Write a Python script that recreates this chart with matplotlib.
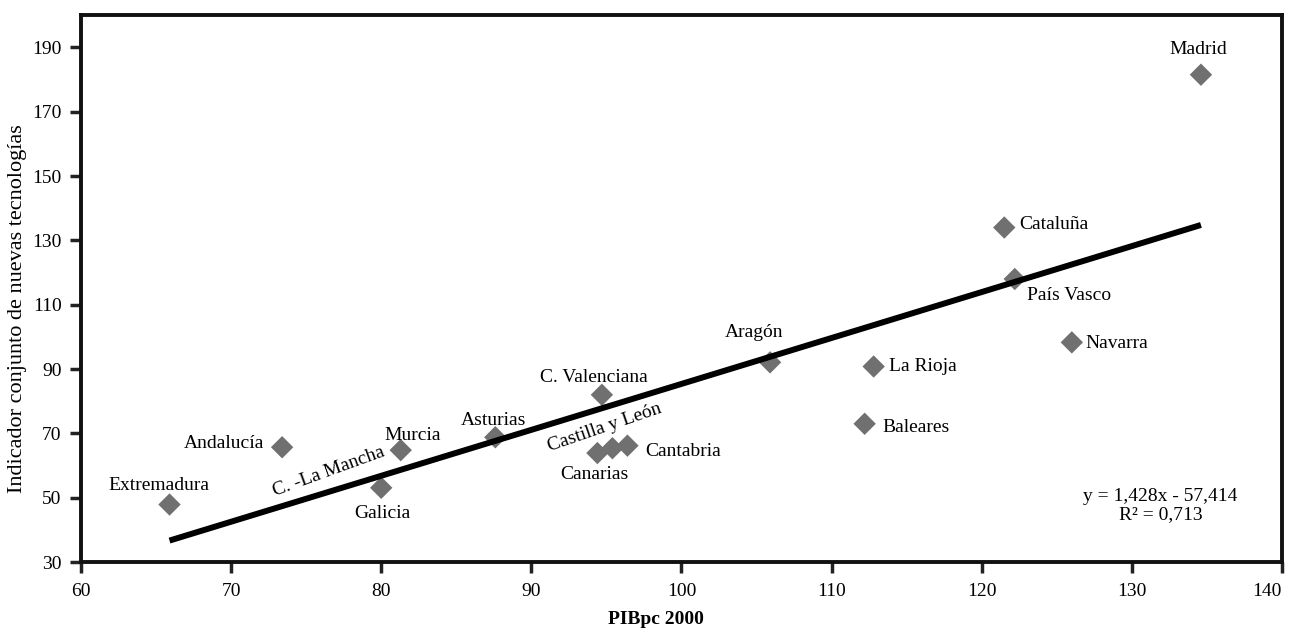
import matplotlib
matplotlib.use("Agg")
import matplotlib.pyplot as plt
import numpy as np

# regions (PIBpc 2000 vs. joint new-technologies indicator)
regions = ["Extremadura", "Andalucía", "Galicia", "Murcia", "Asturias",
           "C. Valenciana", "Canarias", "Castilla y León", "Cantabria",
           "Aragón", "Baleares", "La Rioja", "Cataluña", "País Vasco",
           "Navarra", "Madrid"]
pib = [65.9, 73.4, 80.0, 81.3, 87.6, 94.7, 94.4, 95.4, 96.4,
       105.9, 112.2, 112.8, 121.5, 122.2, 126.0, 134.6]
indicador = [47.9, 65.7, 53.1, 64.8, 68.8, 82.0, 63.9, 65.4, 66.2,
             92.1, 73.0, 90.8, 134.0, 118.0, 98.3, 181.5]

# trend line coefficients as printed on the chart
slope = 1.428
intercept = -57.414
r2 = 0.713

xticks = list(range(60, 141, 10))
yticks = list(range(30, 191, 20))

# label placement: offset in pixels from the point, horizontal alignment
label_pos = {
    "Extremadura": (-11, 19, "center"),
    "Andalucía": (-18, 4, "right"),
    "Galicia": (1, -26, "center"),
    "Murcia": (12, 15, "center"),
    "Asturias": (-2, 17, "center"),
    "C. Valenciana": (-8, 17, "center"),
    "Canarias": (-3, -21, "center"),
    "Cantabria": (18, -6, "left"),
    "Aragón": (-16, 30, "center"),
    "Baleares": (18, -4, "left"),
    "La Rioja": (15, 0, "left"),
    "Cataluña": (15, 3, "left"),
    "País Vasco": (12, -17, "left"),
    "Navarra": (14, -1, "left"),
    "Madrid": (-3, 25, "center"),
}

plt.rcParams["font.family"] = ["Liberation Serif", "DejaVu Serif"]

fig = plt.figure(figsize=(12.93, 6.33), dpi=100)
ax = fig.add_axes([0.0626, 0.112, 0.9289, 0.864])

# trend line over the data range
xl = np.array([min(pib), max(pib)])
ax.plot(xl, slope * xl + intercept, color="black", lw=4.3,
        solid_capstyle="butt", zorder=3)

ax.scatter(pib, indicador, marker="D", s=130, color="#707070",
           edgecolors="none", zorder=2)

for name, x, y in zip(regions, pib, indicador):
    if name in label_pos:
        dx, dy, ha = label_pos[name]
        ax.annotate(name, (x, y), xytext=(dx, dy), textcoords="offset pixels",
                    ha=ha, va="center", fontsize=14, zorder=4)

# rotated labels that sit along the trend line
ax.text(76.5, 58.0, "C. -La Mancha", rotation=20, rotation_mode="anchor",
        ha="center", va="center", fontsize=14, zorder=4)
ax.annotate("Castilla y León", (95.4, 65.4), xytext=(-8, 21),
            textcoords="offset pixels", rotation=19, rotation_mode="anchor",
            ha="center", va="center", fontsize=14, zorder=4)

ax.text(131.9, 47.6,
        "y = {:.3f}x - {:.3f}".format(slope, -intercept).replace(".", ",")
        + "\nR² = {:.3f}".format(r2).replace(".", ","),
        ha="center", va="center", multialignment="center",
        fontsize=14, linespacing=1.05)

ax.set_xlim(60, 140)
ax.set_ylim(30, 200)
ax.set_xticks(xticks)
ax.set_yticks(yticks)
ax.tick_params(axis="both", direction="out", length=8, width=2.5,
               labelsize=14, color="#222222")
ax.tick_params(axis="x", pad=7)
ax.tick_params(axis="y", pad=6)
# last x label is pushed inside the picture, as in the original
ax.get_xticklabels()[-1].set_horizontalalignment("right")
for sp in ax.spines.values():
    sp.set_linewidth(2.8)
    sp.set_color("#111111")

ax.set_ylabel("Indicador conjunto de nuevas tecnologías", fontsize=16)
ax.yaxis.set_label_coords(-0.0445, 0.464)
ax.set_xlabel("PIBpc 2000", fontsize=14, fontweight="bold")
ax.xaxis.set_label_coords(0.479, -0.09)

fig.savefig("out.png", dpi=100)
